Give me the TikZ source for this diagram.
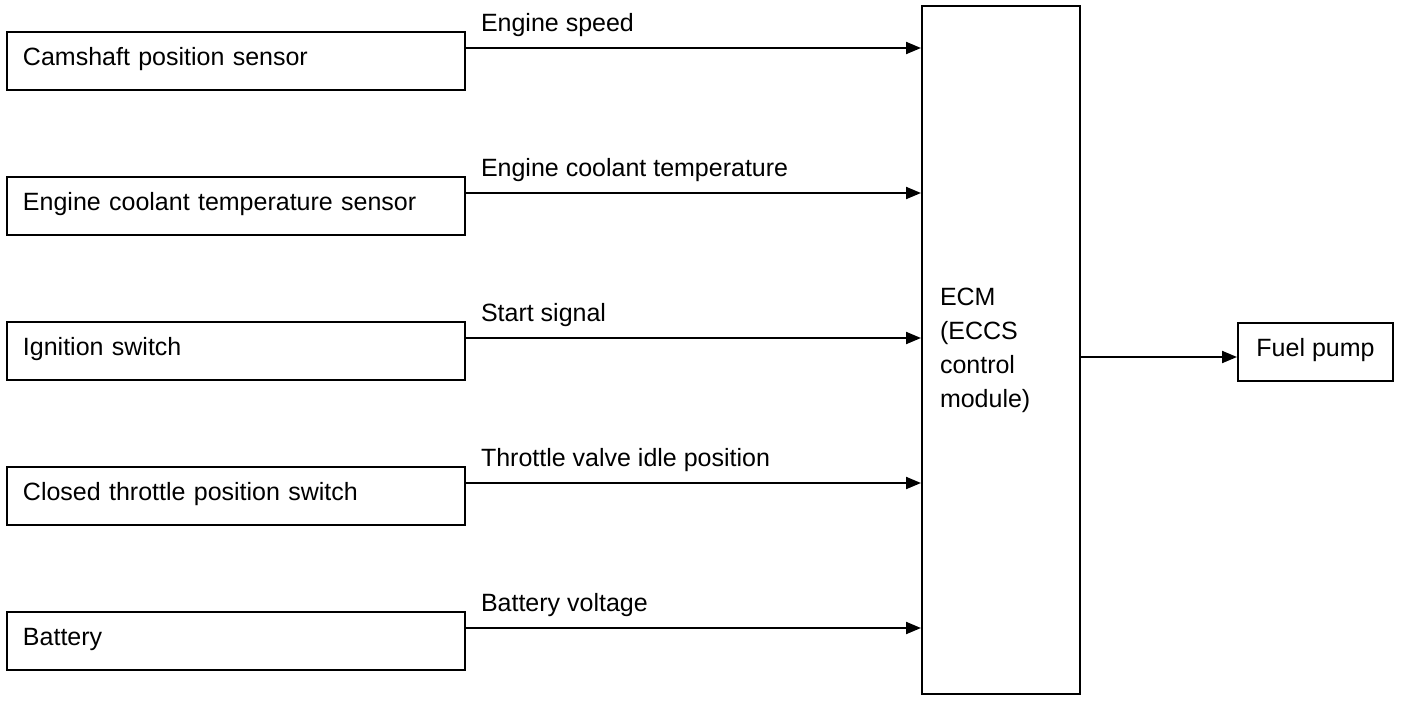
\documentclass[tikz,border=0pt]{standalone}
\usepackage{fontspec}
\setmainfont{Liberation Sans}
\usetikzlibrary{matrix,arrows.meta}

\begin{document}
\begin{tikzpicture}[
  every node/.style={font=\fontsize{12.5}{17}\selectfont},
  box/.style={draw, line width=1pt},
  onerow/.style={box, minimum height=29pt, text height=9pt, text depth=4.5pt},
  sig/.style={line width=1pt, -{Triangle[length=7.5pt,width=6pt]}},
  siglabel/.style={anchor=base west, xshift=7pt, yshift=8.5pt, inner sep=0pt}]
  \useasboundingbox (0,0) rectangle (704pt,-351pt);
  \matrix (m) at (118pt,-175.5pt) [matrix of nodes, row sep=42.5pt,
    nodes={onerow, minimum width=229pt, text width=213pt, inner xsep=8pt, align=left}]
  {
    Camshaft position sensor \\
    Engine coolant temperature sensor \\
    Ignition switch \\
    Closed throttle position switch \\
    Battery \\ };
  \node[box, minimum width=79pt, minimum height=344pt, text width=61pt,
    inner xsep=9pt, align=left] (ecm) at (500.5pt,-175pt)
    {ECM\\(ECCS\\control\\module)};
  \node[onerow, minimum width=77.5pt] (fuel) at (657.75pt,-176pt) {Fuel pump};
  % signal lines
  \coordinate (s1) at ([yshift=6.5pt]m-1-1.east);
  \coordinate (s2) at ([yshift=6.5pt]m-2-1.east);
  \coordinate (s3) at ([yshift=6.5pt]m-3-1.east);
  \coordinate (s4) at ([yshift=6.5pt]m-4-1.east);
  \coordinate (s5) at ([yshift=6.5pt]m-5-1.east);
  \coordinate (p) at ([yshift=-2.5pt]fuel.west);
  \path[sig]
  (s1) edge node[siglabel, pos=0] {Engine speed} (s1 -| ecm.west)
  (s2) edge node[siglabel, pos=0] {Engine coolant temperature} (s2 -| ecm.west)
  (s3) edge node[siglabel, pos=0] {Start signal} (s3 -| ecm.west)
  (s4) edge node[siglabel, pos=0] {Throttle valve idle position} (s4 -| ecm.west)
  (s5) edge node[siglabel, pos=0] {Battery voltage} (s5 -| ecm.west)
  (ecm.east |- p) edge (p);
\end{tikzpicture}
\end{document}
